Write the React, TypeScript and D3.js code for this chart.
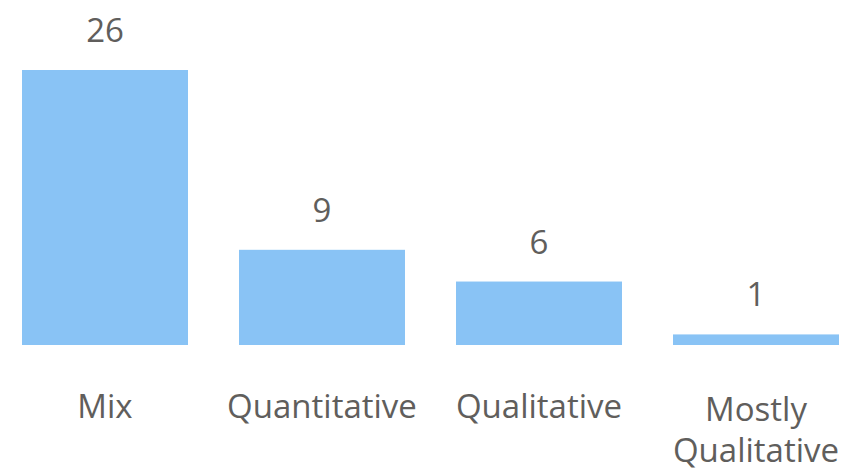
import React from "react";
import * as d3 from "d3";

const categories: string[][] = [["Mix"], ["Quantitative"], ["Qualitative"], ["Mostly", "Qualitative"]];
const values: number[] = [26, 9, 6, 1];

const W = 850;
const H = 473;
const FONT = "'Segoe UI', 'Open Sans', 'Noto Sans', sans-serif";
const TEXT = "#605E5C";
const BAR = "#89C3F5";

export default function App() {
  const keys = categories.map((c) => c.join(" "));
  const x = d3.scaleBand<string>().domain(keys).range([22, 839]).paddingInner(0.235).paddingOuter(0);
  const y = d3.scaleLinear().domain([0, 26]).range([345, 70]);

  return (
    <svg width={W} height={H} style={{ position: "absolute", left: 0, top: 0 }}>
      <rect width={W} height={H} fill="#fff" />
      {values.map((v, i) => {
        const k = keys[i];
        const x0 = x(k)!;
        const cx = x0 + x.bandwidth() / 2;
        const lines = categories[i];
        const multi = lines.length > 1;
        return (
          <g key={k}>
            <rect x={x0} y={y(v)} width={x.bandwidth()} height={y(0) - y(v)} fill={BAR} />
            <text x={cx} y={y(v) - 28} textAnchor="middle" fontFamily={FONT} fontSize={33} fill={TEXT}>
              {v}
            </text>
            {lines.map((l, j) => (
              <text
                key={j}
                x={cx}
                y={(multi ? 421 : 418) + j * 41}
                textAnchor="middle"
                fontFamily={FONT}
                fontSize={33}
                fill={TEXT}
              >
                {l}
              </text>
            ))}
          </g>
        );
      })}
    </svg>
  );
}
